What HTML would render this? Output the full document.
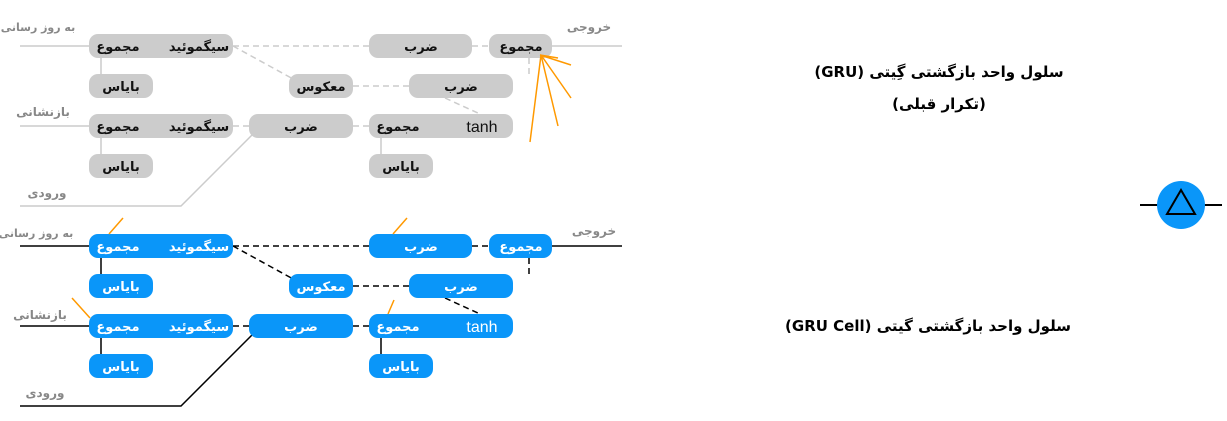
<!DOCTYPE html>
<html><head><meta charset="utf-8"><style>
body{margin:0;background:#fff;width:1227px;height:421px;overflow:hidden}
svg{display:block}
text{font-family:"DejaVu Sans","Liberation Sans",sans-serif;font-weight:bold}
.g rect{fill:#cccccc}
.b rect{fill:#0a96f9}
.g .t{fill:#111}
.b .t{fill:#fff}
.t{font-size:13px}
.lbl{fill:#888;font-size:12px;font-weight:bold}
.g .ln{stroke:#ccc;stroke-width:1.5;fill:none}
.b .ln{stroke:#000;stroke-width:1.5;fill:none}
.d{stroke-dasharray:6,4}
.tanh{font-family:"Liberation Sans",sans-serif;font-weight:normal;font-size:16px}
</style></head><body>
<svg width="1227" height="421" viewBox="0 0 1227 421">
<g class="g">
<path class="ln" d="M20 46H89M552 46H622M20 126H89M101 58V74M101 138V154M381 138V154M20 206H181L253 134"/>
<path class="ln d" d="M233 46H369M472 46H489M233 46L295 80M353 86H409M529 58V74M445 98L480 114M233 126H249M353 126H369"/>
<rect x="89" y="34" width="144" height="24" rx="9"/>
<rect x="369" y="34" width="103" height="24" rx="9"/>
<rect x="489" y="34" width="63" height="24" rx="9"/>
<rect x="89" y="74" width="64" height="24" rx="9"/>
<rect x="289" y="74" width="64" height="24" rx="9"/>
<rect x="409" y="74" width="104" height="24" rx="9"/>
<rect x="89" y="114" width="144" height="24" rx="9"/>
<rect x="249" y="114" width="104" height="24" rx="9"/>
<rect x="369" y="114" width="144" height="24" rx="9"/>
<rect x="89" y="154" width="64" height="24" rx="9"/>
<rect x="369" y="154" width="64" height="24" rx="9"/>
<text class="t" x="118" y="51" text-anchor="middle">مجموع</text>
<text class="t" x="199" y="51" text-anchor="middle">سیگموئید</text>
<text class="t" x="421" y="51" text-anchor="middle">ضرب</text>
<text class="t" x="521" y="51" text-anchor="middle">مجموع</text>
<text class="t" x="121" y="91" text-anchor="middle">بایاس</text>
<text class="t" x="321" y="91" text-anchor="middle">معکوس</text>
<text class="t" x="461" y="91" text-anchor="middle">ضرب</text>
<text class="t" x="118" y="131" text-anchor="middle">مجموع</text>
<text class="t" x="199" y="131" text-anchor="middle">سیگموئید</text>
<text class="t" x="301" y="131" text-anchor="middle">ضرب</text>
<text class="t" x="398" y="131" text-anchor="middle">مجموع</text>
<text class="t tanh" x="482" y="132" text-anchor="middle">tanh</text>
<text class="t" x="121" y="171" text-anchor="middle">بایاس</text>
<text class="t" x="401" y="171" text-anchor="middle">بایاس</text>
</g>
<text class="lbl" x="38" y="31" direction="rtl" text-anchor="middle" style="font-size:11px">به روز رسانی</text>
<text class="lbl" x="43" y="116" direction="rtl" text-anchor="middle">بازنشانی</text>
<text class="lbl" x="47" y="197" direction="rtl" text-anchor="middle">ورودی</text>
<text class="lbl" x="589" y="31" direction="rtl" text-anchor="middle">خروجی</text>
<path d="M540 55L571 65M541 55L571 98M541 55L558 126M541 55L530 142M540 55L558 58" stroke="#f90" stroke-width="1.5" fill="none"/>

<g class="b">
<path class="ln" d="M20 246H89M552 246H622M20 326H89M101 258V274M101 338V354M381 338V354M20 406H181L253 334"/>
<path class="ln d" d="M233 246H369M472 246H489M233 246L295 280M353 286H409M529 258V274M445 298L480 314M233 326H249M353 326H369"/>
<rect x="89" y="234" width="144" height="24" rx="9"/>
<rect x="369" y="234" width="103" height="24" rx="9"/>
<rect x="489" y="234" width="63" height="24" rx="9"/>
<rect x="89" y="274" width="64" height="24" rx="9"/>
<rect x="289" y="274" width="64" height="24" rx="9"/>
<rect x="409" y="274" width="104" height="24" rx="9"/>
<rect x="89" y="314" width="144" height="24" rx="9"/>
<rect x="249" y="314" width="104" height="24" rx="9"/>
<rect x="369" y="314" width="144" height="24" rx="9"/>
<rect x="89" y="354" width="64" height="24" rx="9"/>
<rect x="369" y="354" width="64" height="24" rx="9"/>
<text class="t" x="118" y="251" text-anchor="middle">مجموع</text>
<text class="t" x="199" y="251" text-anchor="middle">سیگموئید</text>
<text class="t" x="421" y="251" text-anchor="middle">ضرب</text>
<text class="t" x="521" y="251" text-anchor="middle">مجموع</text>
<text class="t" x="121" y="291" text-anchor="middle">بایاس</text>
<text class="t" x="321" y="291" text-anchor="middle">معکوس</text>
<text class="t" x="461" y="291" text-anchor="middle">ضرب</text>
<text class="t" x="118" y="331" text-anchor="middle">مجموع</text>
<text class="t" x="199" y="331" text-anchor="middle">سیگموئید</text>
<text class="t" x="301" y="331" text-anchor="middle">ضرب</text>
<text class="t" x="398" y="331" text-anchor="middle">مجموع</text>
<text class="t tanh" x="482" y="332" text-anchor="middle">tanh</text>
<text class="t" x="121" y="371" text-anchor="middle">بایاس</text>
<text class="t" x="401" y="371" text-anchor="middle">بایاس</text>
</g>
<text class="lbl" x="36" y="237" direction="rtl" text-anchor="middle" style="font-size:11px">به روز رسانی</text>
<text class="lbl" x="40" y="319" direction="rtl" text-anchor="middle">بازنشانی</text>
<text class="lbl" x="45" y="397" direction="rtl" text-anchor="middle">ورودی</text>
<text class="lbl" x="594" y="235" direction="rtl" text-anchor="middle">خروجی</text>
<path d="M109 234L123 218M393 234L407 218M90 318L72 298M388 314L394 300" stroke="#f90" stroke-width="1.5" fill="none"/>

<text x="939" y="77" direction="rtl" text-anchor="middle" font-size="15" fill="#000">سلول واحد بازگشتی گِیتی (GRU)</text>
<text x="939" y="109" direction="rtl" text-anchor="middle" font-size="15" fill="#000">(تکرار قبلی)</text>
<text x="928" y="331" direction="rtl" text-anchor="middle" font-size="15" fill="#000">سلول واحد بازگشتی گیتی (GRU Cell)</text>

<path d="M1140 205H1222" stroke="#000" stroke-width="2"/>
<circle cx="1181" cy="205" r="24" fill="#0a96f9"/>
<path d="M1181 190L1167 214H1195Z" fill="none" stroke="#000" stroke-width="2"/>
</svg>
</body></html>
